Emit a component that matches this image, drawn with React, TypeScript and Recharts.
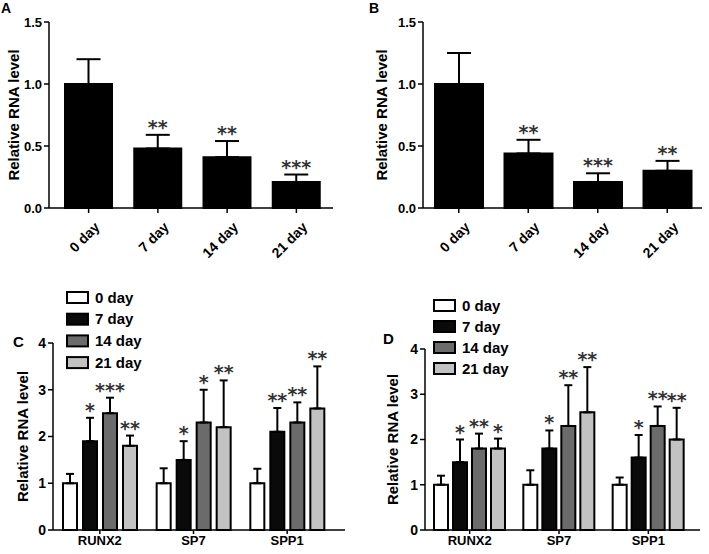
import { BarChart, Bar, XAxis, YAxis, ErrorBar, LabelList, Legend, Label } from "recharts"

const FONT = "'Liberation Sans', Arial, sans-serif"

const days = ["0 day", "7 day", "14 day", "21 day"]
const genes = ["RUNX2", "SP7", "SPP1"]
const dayColors = ["#ffffff", "#0a0a0a", "#6b6b6b", "#c2c2c2"]

// panel A
const aMeans = [1.0, 0.48, 0.41, 0.21]
const aErrors = [0.2, 0.11, 0.13, 0.06]
const aStars = ["", "**", "**", "***"]

// panel B
const bMeans = [1.0, 0.44, 0.21, 0.3]
const bErrors = [0.25, 0.11, 0.07, 0.08]
const bStars = ["", "**", "***", "**"]

// panels C and D: one row per gene, one entry per day
const cMeans = [
  [1.0, 1.9, 2.5, 1.8],
  [1.0, 1.5, 2.3, 2.2],
  [1.0, 2.1, 2.3, 2.6],
]
const cErrors = [
  [0.2, 0.5, 0.33, 0.22],
  [0.32, 0.4, 0.7, 1.0],
  [0.31, 0.51, 0.43, 0.9],
]
const cStars = [
  ["", "*", "***", "**"],
  ["", "*", "*", "**"],
  ["", "**", "**", "**"],
]

const dMeans = [
  [1.0, 1.5, 1.8, 1.8],
  [1.0, 1.8, 2.3, 2.6],
  [1.0, 1.6, 2.3, 2.0],
]
const dErrors = [
  [0.2, 0.5, 0.33, 0.22],
  [0.32, 0.4, 0.9, 1.0],
  [0.16, 0.5, 0.43, 0.7],
]
const dStars = [
  ["", "*", "**", "*"],
  ["", "*", "**", "**"],
  ["", "*", "**", "**"],
]

const dayRows = (means: number[], errors: number[], stars: string[]) =>
  days.map((day, i) => ({ day, mean: means[i], err: [0, errors[i]], star: stars[i] }))

const geneRows = (means: number[][], errors: number[][], stars: string[][]) =>
  genes.map((gene, g) => {
    const row: any = { gene }
    days.forEach((_, d) => {
      row[`m${d}`] = means[g][d]
      row[`e${d}`] = [0, errors[g][d]]
      row[`s${d}`] = stars[g][d]
    })
    return row
  })

const axisStyle = { stroke: "#000", strokeWidth: 1.5 }

// star marks sit just above the top of the error bar
const starLabel = (rows: any[], meanKey: string, errKey: string) => (props: any) => {
  const vb = props.viewBox || {}
  const x = props.x ?? vb.x
  const y = props.y ?? vb.y
  const width = props.width ?? vb.width
  const height = Math.abs(props.height ?? vb.height)
  const { index, value } = props
  if (!value) return null
  const row = rows[index]
  const perUnit = height / row[meanKey]
  const top = y - row[errKey][1] * perUnit
  return (
    <text x={x + width / 2} y={top - 1} textAnchor="middle" fontFamily="'DejaVu Sans'" fontWeight="bold"
      fontSize={19} fill="#333">
      {value}
    </text>
  )
}

const yLabel = (lx: number) => (props: any) => {
  const vb = props.viewBox
  const cy = vb.y + vb.height / 2
  return (
    <text x={lx} y={cy} transform={`rotate(-90, ${lx}, ${cy})`} textAnchor="middle"
      fontFamily={FONT} fontWeight="bold" fontSize={15} fill="#000">
      {props.value}
    </text>
  )
}

const DayTick = (props: any) => {
  const { x, y, payload } = props
  return (
    <g transform={`translate(${x},${y})`}>
      <text x={12} y={13} transform="rotate(-45, 12, 13)" textAnchor="end"
        fontFamily={FONT} fontWeight="bold" fontSize={14} fill="#000">
        {payload.value}
      </text>
    </g>
  )
}

const legendContent = (pitch: number) => () => (
  <svg width={110} height={pitch * 4}>
    {days.map((d, i) => (
      <g key={d}>
        <rect x={1} y={i * pitch + 5} width={21} height={11} fill={dayColors[i]} stroke="#000" strokeWidth={2} />
        <text x={29} y={i * pitch + 15.5} fontFamily={FONT} fontWeight="bold" fontSize={15} fill="#000">{d}</text>
      </g>
    ))}
  </svg>
)

function DayPanel({ rows, left, width, yWidth, right, padding, barSize, labelX, letter, letterX }: any) {
  return (
    <div style={{ position: "absolute", left, top: 0, width, height: 280 }}>
      <div style={{ position: "absolute", left: letterX, top: 0, fontFamily: FONT, fontWeight: "bold", fontSize: 14 }}>{letter}</div>
      <BarChart width={width} height={280} data={rows} margin={{ top: 22, right, bottom: 12, left: 0 }} barSize={barSize}>
        <XAxis dataKey="day" height={60} padding={padding} axisLine={axisStyle} tickLine={axisStyle}
          tickSize={5} tickMargin={2} tick={<DayTick />} interval={0} />
        <YAxis width={yWidth} domain={[0, 1.5]} ticks={[0, 0.5, 1, 1.5]} tickFormatter={(v: number) => v.toFixed(1)}
          axisLine={axisStyle} tickLine={axisStyle} tickSize={5} tickMargin={2}
          tick={{ fontFamily: FONT, fontWeight: "bold", fontSize: 13, fill: "#000" }}>
          <Label value="Relative RNA level" content={yLabel(labelX)} />
        </YAxis>
        <Bar dataKey="mean" fill="#000" stroke="#000" strokeWidth={2} isAnimationActive={false}>
          <ErrorBar dataKey="err" width={12} stroke="#000" strokeWidth={2} />
          <LabelList dataKey="star" content={starLabel(rows, "mean", "err")} />
        </Bar>
      </BarChart>
    </div>
  )
}

function GenePanel({ rows, left, width, top, yWidth, right, padding, barGap, labelX, letter, letterX, letterY, legendLeft, legendTop, pitch }: any) {
  return (
    <div style={{ position: "absolute", left, top: 280, width, height: 274 }}>
      <div style={{ position: "absolute", left: letterX, top: letterY, fontFamily: FONT, fontWeight: "bold", fontSize: 15 }}>{letter}</div>
      <BarChart width={width} height={274} data={rows} margin={{ top, right, bottom: 0, left: 0 }} barSize={14} barGap={barGap}>
        <XAxis dataKey="gene" height={24} padding={padding} axisLine={axisStyle} tickLine={axisStyle}
          tickSize={4} tickMargin={2} interval={0}
          tick={{ fontFamily: FONT, fontWeight: "bold", fontSize: 13, fill: "#000" }} />
        <YAxis width={yWidth} domain={[0, 4]} ticks={[0, 1, 2, 3, 4]}
          axisLine={axisStyle} tickLine={axisStyle} tickSize={5} tickMargin={2}
          tick={{ fontFamily: FONT, fontWeight: "bold", fontSize: 14, fill: "#000" }}>
          <Label value="Relative RNA level" content={yLabel(labelX)} />
        </YAxis>
        <Legend layout="vertical" align="center" verticalAlign="middle" content={legendContent(pitch)}
          wrapperStyle={{ left: legendLeft, top: legendTop, width: 110, height: pitch * 4 }} />
        {days.map((d, i) => (
          <Bar key={d} name={d} dataKey={`m${i}`} fill={dayColors[i]} stroke="#000" strokeWidth={2} isAnimationActive={false}>
            <ErrorBar dataKey={`e${i}`} width={4} stroke="#000" strokeWidth={2} />
            <LabelList dataKey={`s${i}`} content={starLabel(rows, `m${i}`, `e${i}`)} />
          </Bar>
        ))}
      </BarChart>
    </div>
  )
}

export default function App() {
  const aRows = dayRows(aMeans, aErrors, aStars)
  const bRows = dayRows(bMeans, bErrors, bStars)
  const cRows = geneRows(cMeans, cErrors, cStars)
  const dRows = geneRows(dMeans, dErrors, dStars)
  return (
    <div style={{ position: "absolute", left: 0, top: 0, width: 709, height: 554, background: "#fff", overflow: "hidden" }}>
      <DayPanel rows={aRows} left={0} width={354} yWidth={49} right={21} padding={{ left: 5, right: 2 }}
        barSize={47} labelX={19} letter="A" letterX={1} />
      <DayPanel rows={bRows} left={354} width={355} yWidth={69} right={7} padding={{ left: 1, right: 0 }}
        barSize={48} labelX={33} letter="B" letterX={15} />
      <GenePanel rows={cRows} left={0} width={354} top={63} yWidth={53} right={9} padding={{ left: 0, right: 11 }}
        barGap={6} labelX={28} letter="C" letterX={13} letterY={53} legendLeft={66} legendTop={7} pitch={21.7} />
      <GenePanel rows={dRows} left={354} width={355} top={69} yWidth={71} right={9} padding={{ left: 0, right: 7 }}
        barGap={5} labelX={44} letter="D" letterX={29} letterY={50} legendLeft={79} legendTop={15} pitch={21} />
    </div>
  )
}
